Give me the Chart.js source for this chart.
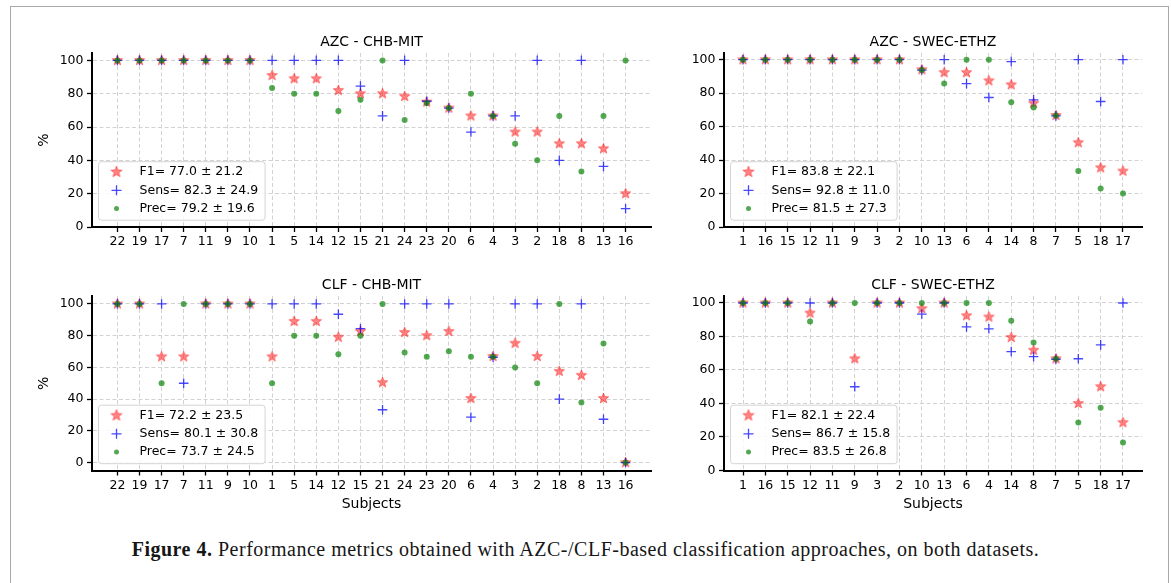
<!DOCTYPE html>
<html>
<head>
<meta charset="utf-8">
<script src="https://cdn.jsdelivr.net/npm/chart.js@4.4.1/dist/chart.umd.min.js"></script>
<style>
  body { margin: 0; background: #fff; width: 1171px; height: 583px; overflow: hidden; position: relative; }
  #frame { position: absolute; left: 10px; top: 6px; width: 1157px; height: 600px; border: 1px solid #a8a8a8; }
  canvas { position: absolute; }
  #caption {
    position: absolute; left: 0; width: 1171px; top: 536px; text-align: center;
    font-family: 'Liberation Serif', serif; font-size: 20px; letter-spacing: 0.5px;
    line-height: 26px; color: #161616;
  }
</style>
</head>
<body>
<div id="frame"></div>
<canvas id="azcChb" width="640" height="240" style="left:30px;top:15px"></canvas>
<canvas id="azcSwec" width="490" height="240" style="left:670px;top:15px"></canvas>
<canvas id="clfChb" width="640" height="260" style="left:30px;top:260px"></canvas>
<canvas id="clfSwec" width="490" height="260" style="left:670px;top:260px"></canvas>
<div id="caption"><b>Figure 4.</b> Performance metrics obtained with AZC-/CLF-based classification approaches, on both datasets.</div>
<script>
// subjects (x categories)
const chbSubjects = ['22', '19', '17', '7', '11', '9', '10', '1', '5', '14', '12', '15',
  '21', '24', '23', '20', '6', '4', '3', '2', '18', '8', '13', '16'];
const swecSubjects = ['1', '16', '15', '12', '11', '9', '3', '2', '10', '13', '6', '4',
  '14', '8', '7', '5', '18', '17'];
const yTicks = [0, 20, 40, 60, 80, 100];

// AZC - CHB-MIT
const azcChbF1 = [100, 100, 100, 100, 100, 100, 100, 91, 89, 89, 82, 80,
  80, 78.4, 75, 71.4, 66.7, 66.7, 57, 57, 50, 50, 47, 20];
const azcChbSens = [100, 100, 100, 100, 100, 100, 100, 100, 100, 100, 100, 84.6,
  66.7, 100, 75.5, 71.4, 57, 66.7, 66.7, 100, 40, 100, 36.4, 11];
const azcChbPrec = [100, 100, 100, 100, 100, 100, 100, 83.4, 80, 80, 69.6, 76.4,
  100, 64.2, 74.5, 71.4, 80, 66.7, 50, 40, 66.7, 33.3, 66.7, 100];
const azcChbLegend = ['F1= 77.0 \u00b1 21.2', 'Sens= 82.3 \u00b1 24.9', 'Prec= 79.2 \u00b1 19.6'];

// AZC - SWEC-ETHZ
const azcSwecF1 = [100, 100, 100, 100, 100, 100, 100, 100, 94, 92.3, 92.3, 87.4,
  85, 74, 66.7, 50.4, 35.4, 33.4];
const azcSwecSens = [100, 100, 100, 100, 100, 100, 100, 100, 93.8, 100, 85.7, 77.4,
  98.9, 76, 66.4, 100, 75, 100];
const azcSwecPrec = [100, 100, 100, 100, 100, 100, 100, 100, 93.8, 85.7, 100, 100,
  74.6, 71.4, 66.7, 33.4, 23, 20];
const azcSwecLegend = ['F1= 83.8 \u00b1 22.1', 'Sens= 92.8 \u00b1 11.0', 'Prec= 81.5 \u00b1 27.3'];

// CLF - CHB-MIT
const clfChbF1 = [100, 100, 66.7, 66.7, 100, 100, 100, 66.7, 89, 89, 79, 82.7,
  50.4, 82, 80, 82.7, 40.4, 66.9, 75.2, 66.9, 57.5, 55, 40.4, 0];
const clfChbSens = [100, 100, 100, 50, 100, 100, 100, 100, 100, 100, 93.5, 84.4,
  33.3, 100, 100, 100, 28.6, 66.4, 100, 100, 40, 100, 27.3, 0];
const clfChbPrec = [100, 100, 50, 100, 100, 100, 100, 50, 80, 80, 68.3, 80,
  100, 69.4, 66.7, 70.2, 66.7, 66.7, 60, 50, 100, 37.9, 75, 0];
const clfChbLegend = ['F1= 72.2 \u00b1 23.5', 'Sens= 80.1 \u00b1 30.8', 'Prec= 73.7 \u00b1 24.5'];

// CLF - SWEC-ETHZ
const clfSwecF1 = [100, 100, 100, 94, 100, 66.7, 100, 100, 96.6, 100, 92.4, 91.6,
  79.4, 71.8, 66.7, 40, 50, 28.6];
const clfSwecSens = [100, 100, 100, 100, 100, 50, 100, 100, 93.4, 100, 85.7, 84.6,
  71, 68, 66.4, 66.7, 75, 100];
const clfSwecPrec = [100, 100, 100, 89, 100, 100, 100, 100, 100, 100, 100, 100,
  89.4, 76.4, 66.7, 28.6, 37.5, 16.7];
const clfSwecLegend = ['F1= 82.1 \u00b1 22.4', 'Sens= 86.7 \u00b1 15.8', 'Prec= 83.5 \u00b1 26.8'];

const F1_COLOR = 'rgba(255,0,0,0.48)';
const SENS_COLOR = 'rgba(0,0,255,0.72)';
const PREC_COLOR = 'rgba(0,128,0,0.68)';
const FONT = "'DejaVu Sans', sans-serif";

Chart.defaults.font.family = FONT;
Chart.defaults.color = '#000';

function starImage(outer) {
  const size = Math.ceil(outer * 2 + 4);
  const c = document.createElement('canvas');
  c.width = size;
  c.height = size;
  const g = c.getContext('2d');
  g.beginPath();
  for (let i = 0; i < 10; i++) {
    const r = i % 2 ? outer * 0.42 : outer;
    const a = -Math.PI / 2 + i * Math.PI / 5;
    g.lineTo(size / 2 + r * Math.cos(a), size / 2 + r * Math.sin(a));
  }
  g.closePath();
  g.fillStyle = F1_COLOR;
  g.fill();
  g.lineWidth = 1;
  g.strokeStyle = F1_COLOR;
  g.stroke();
  return c;
}

const starPlot = starImage(5.4);
const starLegend = starImage(5.8);

// title above the axes, legend box in the lower left corner
const figurePlugin = {
  id: 'figureBits',
  afterDatasetsDraw(chart) {
    const o = chart.options.plugins.figureBits;
    const ctx = chart.ctx;
    const a = chart.chartArea;
    ctx.save();
    ctx.font = '14px ' + FONT;
    ctx.fillStyle = '#000';
    ctx.textAlign = 'center';
    ctx.textBaseline = 'alphabetic';
    ctx.fillText(o.title, (a.left + a.right) / 2, a.top - 7.5);

    ctx.font = '12.5px ' + FONT;
    let w = 0;
    o.legend.forEach(t => { w = Math.max(w, ctx.measureText(t).width); });
    const bx = a.left + 6.5;
    const bh = 58.5;
    const by = a.bottom - 6.8 - bh;
    const bw = 41 + w + 7;
    ctx.beginPath();
    ctx.roundRect(bx, by, bw, bh, 3);
    ctx.fillStyle = 'rgba(255,255,255,0.85)';
    ctx.fill();
    ctx.strokeStyle = '#d4d4d4';
    ctx.lineWidth = 1;
    ctx.stroke();

    const mx = bx + 18;
    o.legend.forEach((t, i) => {
      const y = by + 10.3 + i * 18.3;
      if (i === 0) {
        ctx.drawImage(starLegend, mx - starLegend.width / 2, y - starLegend.height / 2);
      } else if (i === 1) {
        ctx.strokeStyle = SENS_COLOR;
        ctx.lineWidth = 1.3;
        ctx.beginPath();
        ctx.moveTo(mx - 5, y); ctx.lineTo(mx + 5, y);
        ctx.moveTo(mx, y - 5); ctx.lineTo(mx, y + 5);
        ctx.stroke();
      } else {
        ctx.fillStyle = PREC_COLOR;
        ctx.beginPath();
        ctx.arc(mx, y, 2.5, 0, Math.PI * 2);
        ctx.fill();
      }
      ctx.fillStyle = '#000';
      ctx.textAlign = 'left';
      ctx.textBaseline = 'middle';
      ctx.fillText(t, bx + 41, y);
    });
    ctx.restore();
  }
};

function points(values) {
  return values.map((v, i) => ({ x: i, y: v }));
}

function buildChart(id, subjects, f1, sens, prec, legend, title, layout) {
  const canvas = document.getElementById(id);
  const m = 0.05 * (subjects.length - 1);
  return new Chart(canvas, {
    type: 'scatter',
    data: {
      datasets: [
        { label: 'F1', data: points(f1), pointStyle: starPlot, order: 3 },
        { label: 'Sens', data: points(sens), pointStyle: 'cross', pointRadius: 4.8,
          borderColor: SENS_COLOR, borderWidth: 1.3, order: 2 },
        { label: 'Prec', data: points(prec), pointStyle: 'circle', pointRadius: 3,
          backgroundColor: PREC_COLOR, borderColor: PREC_COLOR, borderWidth: 0, order: 1 }
      ]
    },
    options: {
      responsive: false,
      animation: false,
      devicePixelRatio: 1,
      events: [],
      layout: { padding: { left: 0, top: layout.top, right: layout.right, bottom: 0 } },
      plugins: {
        legend: { display: false },
        tooltip: { enabled: false },
        figureBits: { title: title, legend: legend }
      },
      scales: {
        x: {
          type: 'linear',
          min: -m,
          max: subjects.length - 1 + m,
          afterBuildTicks: s => { s.ticks = subjects.map((_, i) => ({ value: i })); },
          afterFit: s => { s.height = layout.xHeight; },
          ticks: {
            autoSkip: false, maxRotation: 0, padding: 2.5,
            font: { size: 12.5 },
            callback: v => subjects[v]
          },
          grid: { color: '#d2d2d2', lineWidth: 1, tickLength: 5, tickColor: '#000', tickWidth: 1.3 },
          border: { color: '#000', width: 2, dash: [4, 2.5] },
          title: {
            display: layout.xTitle, text: 'Subjects',
            font: { size: 14 }, padding: { top: 0, bottom: 7.6 }
          }
        },
        y: {
          min: layout.yMin,
          max: layout.yMax,
          afterBuildTicks: s => { s.ticks = yTicks.map(v => ({ value: v })); },
          afterFit: s => { s.width = layout.yWidth; },
          ticks: { padding: 3.5, font: { size: 12.5 } },
          grid: { color: '#d2d2d2', lineWidth: 1, tickLength: 5, tickColor: '#000', tickWidth: 1.3 },
          border: { color: '#000', width: 2, dash: [4, 2.5] },
          title: {
            display: layout.yTitle, text: '%',
            font: { size: 14 }, padding: { top: 5.6, bottom: 0 }
          }
        }
      }
    },
    plugins: [figurePlugin]
  });
}

buildChart('azcChb', chbSubjects, azcChbF1, azcChbSens, azcChbPrec, azcChbLegend, 'AZC - CHB-MIT',
  { top: 38, right: 19, xHeight: 28, yWidth: 62, yMin: 0, yMax: 104.45, xTitle: false, yTitle: true });
buildChart('azcSwec', swecSubjects, azcSwecF1, azcSwecSens, azcSwecPrec, azcSwecLegend, 'AZC - SWEC-ETHZ',
  { top: 38, right: 18, xHeight: 28, yWidth: 54, yMin: 0, yMax: 104, xTitle: false, yTitle: false });
buildChart('clfChb', chbSubjects, clfChbF1, clfChbSens, clfChbPrec, clfChbLegend, 'CLF - CHB-MIT',
  { top: 36, right: 19, xHeight: 49.5, yWidth: 62, yMin: -5, yMax: 105, xTitle: true, yTitle: true });
buildChart('clfSwec', swecSubjects, clfSwecF1, clfSwecSens, clfSwecPrec, clfSwecLegend, 'CLF - SWEC-ETHZ',
  { top: 36, right: 18, xHeight: 49.5, yWidth: 54, yMin: 0, yMax: 104.17, xTitle: true, yTitle: false });
</script>
</body>
</html>
